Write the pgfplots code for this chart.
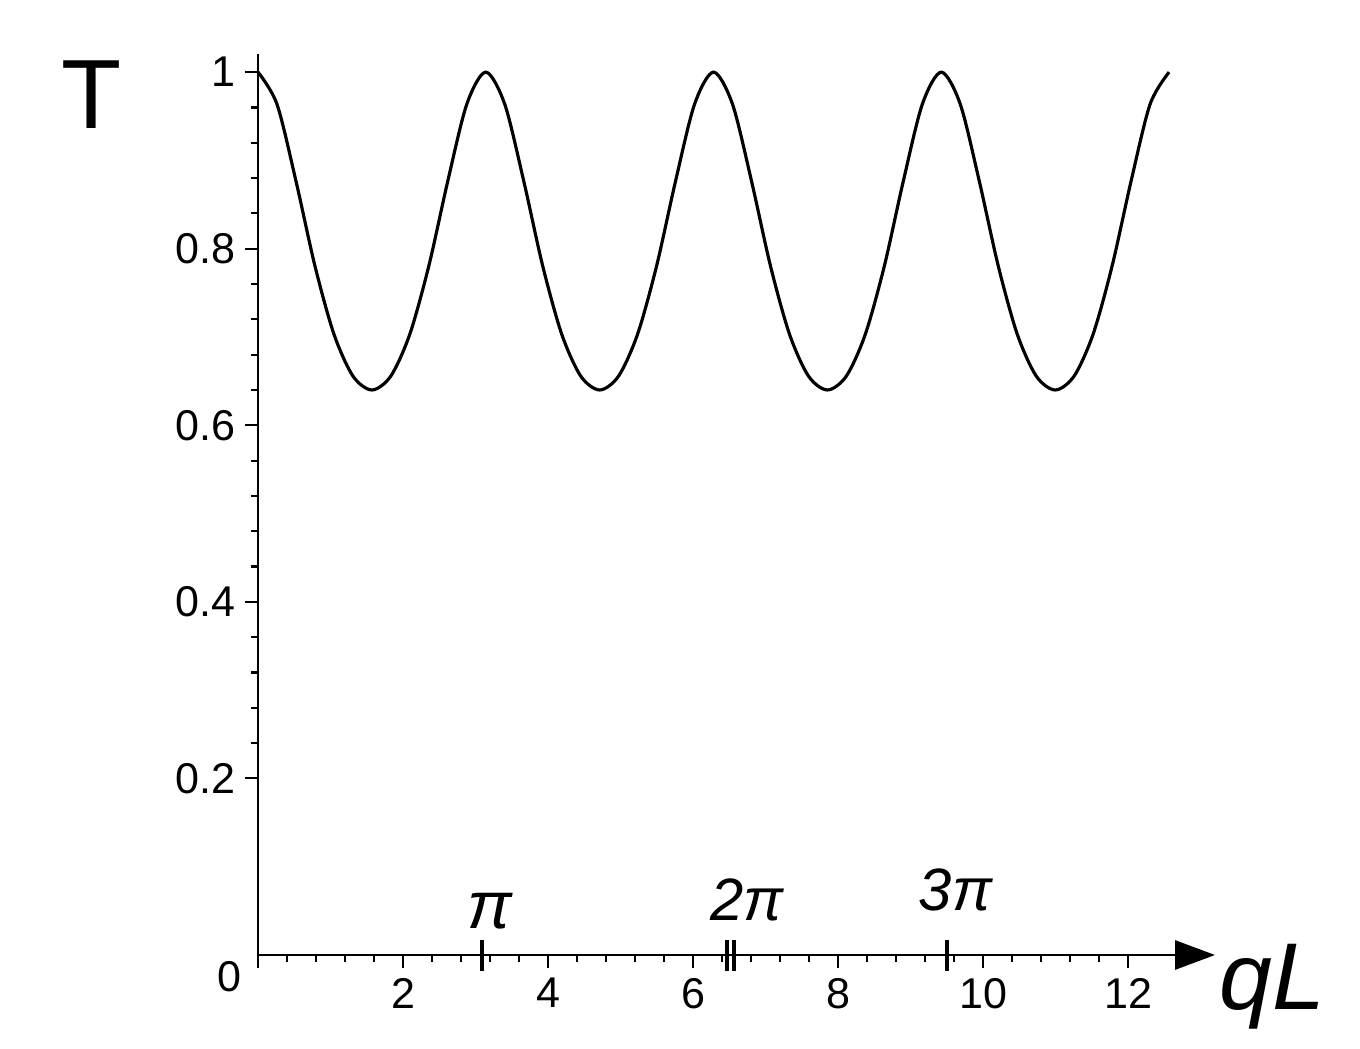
\documentclass[border=0pt]{standalone}
\usepackage{fontspec}
\setmainfont{Liberation Sans}
\usepackage{pgfplots}
\pgfplotsset{compat=1.18}
\usetikzlibrary{arrows.meta}
\begin{document}
\begin{tikzpicture}
\useasboundingbox (-5.16,-1.86) rectangle (22.04,19.10);
\begin{axis}[
  at={(0,0)}, anchor=south west,
  scale only axis, width=19.14cm, height=18.01cm,
  xmin=0, xmax=13.2, ymin=0, ymax=1.02,
  axis lines=left,
  axis line style={line width=1.7pt},
  x axis line style={-{Triangle[length=0.8cm,width=0.58cm]}},
  y axis line style={-},
  clip=false,
  xtick={0,2,4,6,8,10,12},
  xticklabels={,2,4,6,8,10,12},
  ytick={0.2,0.4,0.6,0.8,1},
  yticklabels={0.2,0.4,0.6,0.8,1},
  minor x tick num=4, minor y tick num=4,
  tick align=outside,
  major tick length=0.26cm, minor tick length=0.14cm,
  tick style={line width=1.2pt, black},
  /pgf/number format/assume math mode=true,
  tick label style={font=\fontsize{24.5}{28}\selectfont},
  xticklabel style={yshift=-0.08cm},
  yticklabel style={xshift=-0.06cm},
  extra x ticks={3.09,6.47,6.57,9.5},
  extra x tick labels={},
  extra x tick style={major tick length=0.62cm, tick align=center, tick style={line width=2.4pt}},
]
\addplot[black, line width=1.8pt, smooth] coordinates {
(0,1) (0.2618,0.96369) (0.5236,0.87671) (0.7854,0.78049) (1.0472,0.70330) (1.3090,0.65581) (1.5708,0.64) (1.8326,0.65581) (2.0944,0.70330) (2.3562,0.78049) (2.6180,0.87671) (2.8798,0.96369) (3.1416,1)
(3.4034,0.96369) (3.6652,0.87671) (3.9270,0.78049) (4.1888,0.70330) (4.4506,0.65581) (4.7124,0.64) (4.9742,0.65581) (5.2360,0.70330) (5.4978,0.78049) (5.7596,0.87671) (6.0214,0.96369) (6.2832,1)
(6.5450,0.96369) (6.8068,0.87671) (7.0686,0.78049) (7.3304,0.70330) (7.5922,0.65581) (7.8540,0.64) (8.1158,0.65581) (8.3776,0.70330) (8.6394,0.78049) (8.9012,0.87671) (9.1630,0.96369) (9.4248,1)
(9.6866,0.96369) (9.9484,0.87671) (10.2102,0.78049) (10.4720,0.70330) (10.7338,0.65581) (10.9956,0.64) (11.2574,0.65581) (11.5192,0.70330) (11.7810,0.78049) (12.0428,0.87671) (12.3046,0.96369) (12.5664,1)
};
\node[font=\fontsize{24.5}{28}\selectfont] at (axis cs:-0.39,-0.025) {0};
\node[font=\fontsize{56}{60}\selectfont] at (axis cs:-2.29,0.975) {T};
\node[font=\fontsize{54}{58}\selectfont\itshape] at (axis cs:13.99,-0.036) {qL};
\node[font=\fontsize{38}{42}\selectfont\itshape] at (axis cs:3.2,0.05) {π};
\node[font=\fontsize{34}{38}\selectfont\itshape] at (axis cs:6.75,0.062) {2π};
\node[font=\fontsize{34}{38}\selectfont\itshape] at (axis cs:9.62,0.074) {3π};
\end{axis}
\end{tikzpicture}
\end{document}
